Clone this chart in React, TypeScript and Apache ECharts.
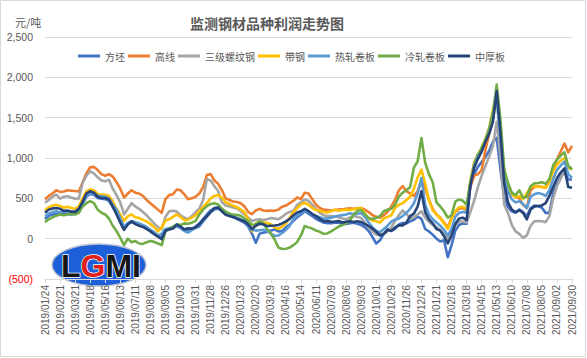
import React, { useEffect, useRef } from "react";
import * as echarts from "echarts";

// Weekly dates from 2019/01/24 to 2021/09/30 (141 weeks)
const START = Date.UTC(2019, 0, 24);
const categories: string[] = Array.from({ length: 141 }, (_, i) => {
  const d = new Date(START + i * 7 * 86400000);
  return `${d.getUTCFullYear()}/${String(d.getUTCMonth() + 1).padStart(2, "0")}/${String(d.getUTCDate()).padStart(2, "0")}`;
});

const seriesNames = ["方坯", "高线", "三级螺纹钢", "带钢", "热轧卷板", "冷轧卷板", "中厚板"];
const seriesColors = ["#4472C4", "#ED7D31", "#A5A5A5", "#FFC000", "#5B9BD5", "#70AD47", "#264478"];

const fangpi = [
  245, 285, 300, 310, 300, 310, 305, 300, 310, 340,
  430, 520, 555, 545, 505, 495, 490, 470, 390, 320,
  220, 120, 185, 205, 195, 180, 160, 140, 100, 70,
  30, 10, 110, 130, 145, 165, 140, 110, 100, 120,
  150, 190, 240, 300, 350, 375, 385, 345, 310, 285,
  265, 245, 220, 195, 150, 60, -50, 60, 75, 85,
  100, 115, 90, 95, 140, 175, 220, 265, 300, 342,
  310, 280, 245, 220, 200, 192, 192, 198, 198, 185,
  182, 190, 198, 185, 170, 140, 95, 20, -60, -20,
  60, 120, 100, 120, 177, 195, 190, 215, 235, 275,
  245, 120, 90, 50, 0, -35, -20, -230, -80, 100,
  170, 190, 185, 690, 800, 890, 950, 1010, 1090, 1200,
  1250, 856, 520, 390, 340, 322, 360, 330, 280, 380,
  410, 405, 383, 320, 320, 560, 671, 760, 830, 735,
  733,
];

const gaoxian = [
  490, 530, 560, 600, 580, 585, 600, 595, 590, 585,
  700, 810, 885, 890, 850, 800, 780, 800, 770, 700,
  620, 510, 560, 600, 570, 560, 530, 480, 440, 400,
  360, 320, 490, 540, 550, 610, 600, 550, 490, 500,
  520, 560, 640, 790, 800, 720, 680, 600, 500, 480,
  460, 455, 440, 400, 330, 305, 350, 370, 350, 345,
  350, 345, 360, 395, 410, 440, 470, 510, 490, 570,
  560, 490, 420, 380, 360, 355, 350, 355, 360, 365,
  370, 375, 370, 375, 380, 360, 330, 290, 270, 260,
  290, 330, 400, 480, 600, 650, 590, 560, 530, 590,
  720, 620, 480, 370, 300, 260, 200, 140, 260, 330,
  370, 380, 350, 640, 780, 800, 850, 1100, 1300, 1500,
  1750, 1300, 820, 680, 560, 520, 500, 420, 380, 600,
  640, 650, 640, 630, 720, 880, 980, 1080, 1180, 1070,
  1150,
];

const luowen = [
  445, 480, 520, 545, 495, 520, 525, 510, 495, 500,
  690, 780, 835, 810, 760, 720, 710, 730, 620, 540,
  450, 300, 370, 440, 400, 370, 330, 290, 240, 190,
  140, 120, 270, 340, 345, 335, 290, 260, 240, 280,
  330, 370, 480, 740, 720, 650, 590, 450, 410, 400,
  385, 375, 340, 300, 260, 220, 235, 240, 230, 240,
  255, 250, 240, 270, 310, 330, 345, 420, 450, 485,
  470, 420, 370, 320, 290, 280, 280, 275, 265, 250,
  240, 265, 280, 270, 255, 200, 140, 90, 50, 50,
  60, 90, 140, 220, 290, 350, 310, 250, 265, 300,
  340, 260, 210, 170, 140, 110, 60, 0, 110, 170,
  215, 210, 200, 330, 470, 640, 780, 900, 1020, 1150,
  1450, 1000, 420, 320, 170, 90, 60, 10, 40, 160,
  215, 220, 215, 205, 280, 500, 650, 745, 850, 895,
  876,
];

const daigang = [
  350, 390, 410, 420, 405, 385, 395, 380, 370, 400,
  500, 590, 610, 600, 555, 545, 545, 530, 460, 370,
  300, 220, 280, 300, 265, 255, 235, 215, 180, 145,
  90, 140, 225, 240, 270, 300, 270, 230, 235, 260,
  290, 340, 390, 440, 500, 530, 540, 510, 450, 430,
  410, 390, 360, 330, 240, 90, 185, 205, 200, 195,
  180, 140, 120, 150, 190, 260, 330, 380, 425, 445,
  420, 380, 355, 345, 330, 325, 340, 360, 345, 355,
  360, 355, 365, 375, 380, 310, 250, 225, 215, 200,
  250, 270, 290, 380, 420, 440, 480, 520, 620, 760,
  856, 680, 480, 350, 300, 250, 190, 120, 250, 340,
  390, 395, 365, 720, 950, 1050, 1120, 1240, 1380, 1600,
  1800, 1390, 780, 650, 545, 515, 525, 495, 560, 640,
  650, 645, 642, 630, 700, 830, 920, 965, 1000, 880,
  856,
];

const rezha = [
  275, 310, 330, 340, 325, 340, 335, 330, 340, 370,
  450, 530, 570, 560, 530, 525, 520, 495, 420, 360,
  250, 150, 195, 215, 205, 190, 170, 145, 110, 80,
  40, 60, 120, 125, 140, 150, 130, 95, 75, 105,
  130, 150, 210, 270, 330, 360, 370, 350, 325, 305,
  280, 258, 240, 215, 160, 110, 100, 105, 110, 95,
  65, 35, 40, 70, 110, 160, 245, 290, 320, 355,
  330, 305, 282, 265, 250, 250, 258, 275, 285, 292,
  300, 315, 305, 310, 318, 270, 200, 140, 95, 80,
  120, 160, 210, 235, 250, 280, 320, 370, 440, 560,
  750, 420, 300, 240, 200, 160, 110, 40, 120, 270,
  320, 330, 320, 680, 920, 1040, 1110, 1220, 1360, 1560,
  1720, 1226, 760, 580, 490, 450, 465, 430, 380, 520,
  550, 565, 555, 530, 600, 740, 850, 905, 955, 800,
  753,
];

const lengzha = [
  205, 240, 265, 285, 300, 290, 300, 310, 300, 320,
  400, 440, 465, 440, 360, 320, 300, 250, 160, 95,
  10, -80, 0, -45, -30, -60, -65, -45, -30, -40,
  -60, -80, 90, 120, 150, 177, 170, 190, 185, 198,
  220, 300, 360, 403, 430, 440, 425, 370, 335, 310,
  300, 295, 285, 250, 218, 170, 180, 215, 190, 120,
  60, -10, -110, -128, -125, -110, -80, -40, 40, 157,
  140, 125, 100, 85, 60, 65, 90, 120, 150, 170,
  190, 225, 300, 345, 355, 300, 255, 240, 260, 280,
  340, 360, 370, 420, 520, 570, 600, 640, 880, 960,
  1246, 940, 800, 700, 450, 400, 340, 260, 290, 460,
  486, 470, 420, 700, 900, 1010, 1130, 1230, 1340, 1560,
  1910, 1472, 860, 690, 570, 540, 600, 505, 520, 650,
  685, 690, 700, 680, 740, 910, 980, 1030, 1070, 900,
  856,
];

const zhonghou = [
  320, 360, 375, 380, 370, 345, 350, 335, 330, 370,
  460, 560, 588, 570, 520, 505, 505, 485, 400, 300,
  200, 110, 175, 215, 180, 160, 145, 120, 90, 55,
  25, -5, 100, 115, 125, 175, 150, 115, 130, 125,
  140, 175, 235, 280, 330, 380, 385, 340, 295, 282,
  270, 250, 232, 215, 175, 120, 160, 185, 175, 157,
  160, 163, 170, 190, 215, 245, 290, 325, 340, 370,
  342, 305, 280, 245, 218, 218, 210, 212, 218, 200,
  210, 215, 206, 215, 205, 180, 157, 125, 85, 40,
  60, 110, 95, 140, 165, 165, 198, 280, 310, 400,
  588, 330, 240, 190, 120, 100, 30, -60, 40, 180,
  250, 260, 230, 650, 880, 990, 1080, 1200, 1300, 1450,
  1830, 1308, 680, 450, 360, 330, 355, 320, 240, 360,
  400, 405, 412, 440, 530, 640, 750, 820, 870, 640,
  630,
];

const seriesData = [fangpi, gaoxian, luowen, daigang, rezha, lengzha, zhonghou];

const yMin = -500;
const yMax = 2500;
const yStep = 500;

const FONT = "'Liberation Sans', 'Noto Sans CJK SC', sans-serif";
const CJK = "'Noto Sans CJK SC', 'Liberation Sans', sans-serif";

export default function App() {
  const ref = useRef<HTMLDivElement>(null);

  useEffect(() => {
    if (!ref.current) return;
    const chart = echarts.init(ref.current, undefined, { renderer: "svg" });
    chart.setOption({
      animation: false,
      backgroundColor: "#ffffff",
      title: {
        text: "监测钢材品种利润走势图",
        left: 185,
        top: 11,
        textStyle: { fontSize: 14, color: "#595959", fontWeight: "bold", fontFamily: CJK },
      },
      legend: {
        data: seriesNames,
        left: 73,
        top: 46,
        icon: "rect",
        itemWidth: 22,
        itemHeight: 3,
        itemGap: 3,
        textStyle: { fontSize: 10, color: "#595959", fontFamily: CJK },
      },
      grid: { left: 45, right: 15, top: 37, bottom: 79, containLabel: false },
      xAxis: {
        type: "category",
        boundaryGap: false,
        data: categories,
        axisLine: { show: true, onZero: false, lineStyle: { color: "#d9d9d9" } },
        axisTick: { show: true, interval: 3, length: 4, lineStyle: { color: "#d9d9d9" } },
        axisLabel: { interval: 3, rotate: 90, fontSize: 10, color: "#595959", margin: 6, fontFamily: FONT },
        splitLine: { show: false },
      },
      yAxis: {
        type: "value",
        min: yMin,
        max: yMax,
        interval: yStep,
        axisLine: { show: false },
        axisTick: { show: false },
        splitLine: { lineStyle: { color: "#d9d9d9", width: 1 } },
        axisLabel: {
          margin: 12,
          fontSize: 10.5,
          color: "#595959",
          fontFamily: FONT,
          formatter: (v: number) =>
            v < 0 ? `{neg|(${Math.abs(v).toLocaleString("en-US")})}` : v.toLocaleString("en-US"),
          rich: { neg: { color: "#FF0000", fontSize: 10.5, fontFamily: FONT } },
        },
      },
      series: seriesNames.map((name, k) => ({
        name,
        type: "line",
        data: seriesData[k],
        showSymbol: false,
        symbol: "none",
        lineStyle: { width: 2.6, color: seriesColors[k], join: "round" },
        itemStyle: { color: seriesColors[k] },
        emphasis: { disabled: true },
      })),
      graphic: [
        {
          type: "rect",
          shape: { x: 0.5, y: 0.5, width: 585, height: 356 },
          style: { fill: "none", stroke: "#d9d9d9", lineWidth: 1 },
          silent: true,
          z: 0,
        },
        {
          type: "text",
          left: 15,
          top: 16,
          style: { text: "元/吨", fontSize: 11, fill: "#595959", fontFamily: CJK },
        },
        {
          type: "group",
          z: 100,
          children: [
            {
              type: "ellipse",
              shape: { cx: 99, cy: 265, rx: 47, ry: 21 },
              style: { fill: "#1D5FD8", stroke: "#B8C2D0", lineWidth: 1.5 },
            },
            {
              type: "text",
              x: 101,
              y: 266,
              style: {
                text: "{b|L}{r|G}{b|MI}",
                align: "center",
                verticalAlign: "middle",
                rich: {
                  b: { fill: "#151515", fontSize: 32, fontWeight: "bold", fontFamily: FONT, stroke: "#ffffff", lineWidth: 1.5 },
                  r: { fill: "#E0201B", fontSize: 32, fontWeight: "bold", fontFamily: FONT, stroke: "#ffffff", lineWidth: 1.5 },
                },
              },
            },
          ],
        },
      ],
    });
    return () => chart.dispose();
  }, []);

  return (
    <div
      ref={ref}
      style={{ position: "absolute", left: 0, top: 0, width: 587, height: 358, background: "#fff" }}
    />
  );
}
